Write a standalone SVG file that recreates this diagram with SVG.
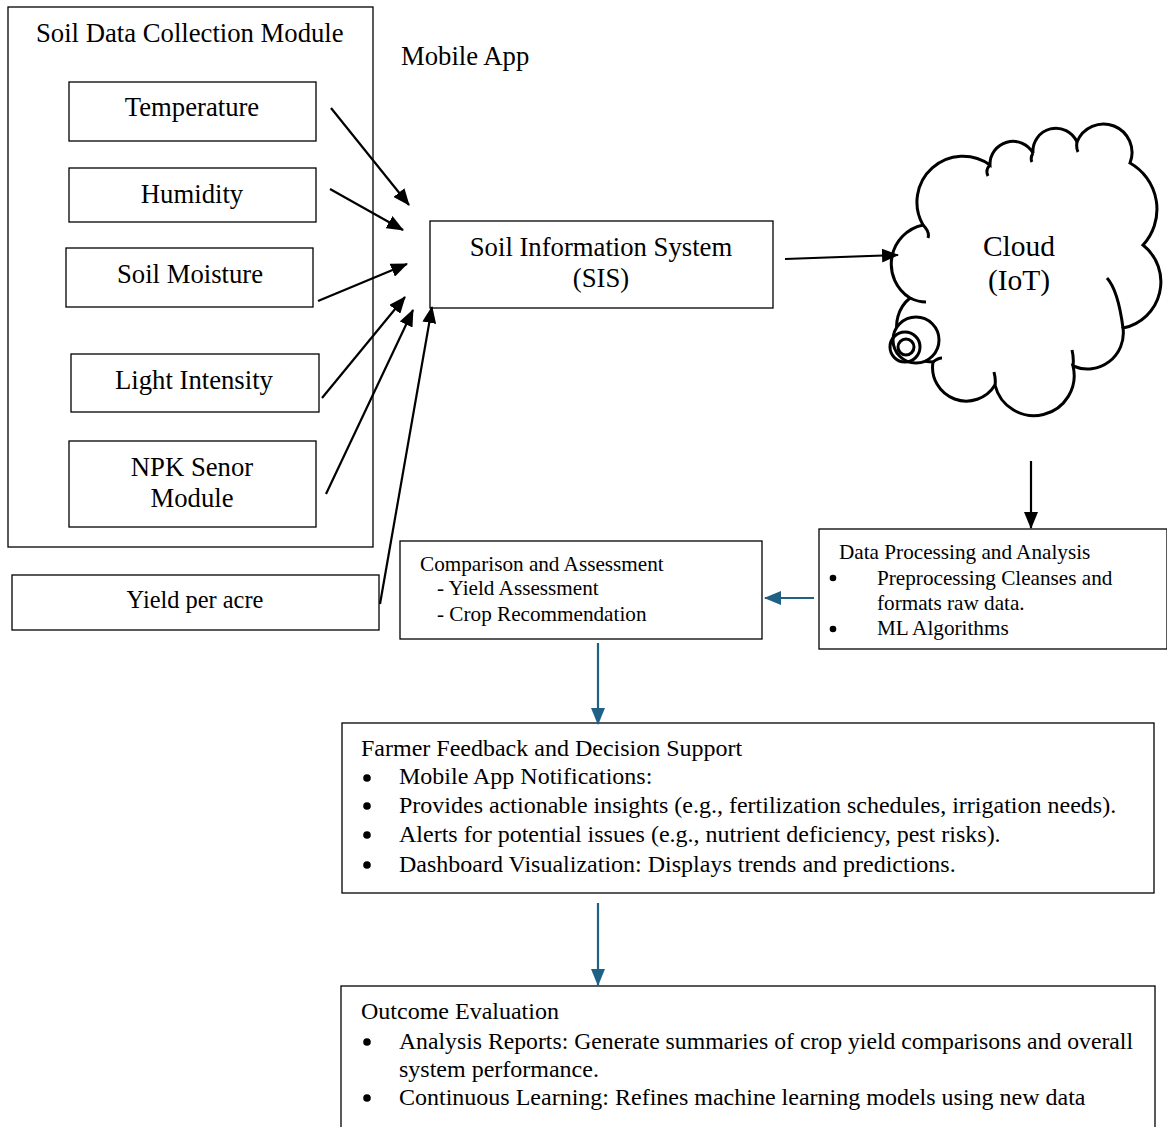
<svg xmlns="http://www.w3.org/2000/svg" width="1167" height="1127" viewBox="0 0 1167 1127">
<style>
  .box{fill:#fff;stroke:#000;stroke-width:1.3}
  text{font-family:"Liberation Serif","Times New Roman",serif;fill:#000}
  .t26{font-size:26.7px}
  .t24{font-size:24px}
  .t21{font-size:21.2px}
  .c{text-anchor:middle}
  .blk{stroke:#000;stroke-width:2.2;fill:none}
  .blu{stroke:#1f6085;stroke-width:2.2;fill:none}
  .cl{fill:none;stroke:#000;stroke-width:3}
</style>
<defs>
  <marker id="ab" markerUnits="userSpaceOnUse" markerWidth="18" markerHeight="14" refX="16" refY="7" orient="auto">
    <path d="M0,0 L17,7 L0,14 Z" fill="#000"/>
  </marker>
  <marker id="au" markerUnits="userSpaceOnUse" markerWidth="18" markerHeight="14" refX="16" refY="7" orient="auto">
    <path d="M0,0 L17,7 L0,14 Z" fill="#1f6085"/>
  </marker>
</defs>
<rect width="1167" height="1127" fill="#fff"/>

<g id="soil-module">
  <rect class="box" x="8" y="7" width="365" height="540"/>
  <text class="t26" x="36" y="42">Soil Data Collection Module</text>
</g>
<g id="temperature">
  <rect class="box" x="69" y="82" width="247" height="59"/>
  <text class="t26 c" x="192" y="116">Temperature</text>
</g>
<g id="humidity">
  <rect class="box" x="69" y="168" width="247" height="54"/>
  <text class="t26 c" x="192" y="203">Humidity</text>
</g>
<g id="soil-moisture">
  <rect class="box" x="66" y="248" width="247" height="59"/>
  <text class="t26 c" x="190" y="283">Soil Moisture</text>
</g>
<g id="light-intensity">
  <rect class="box" x="71" y="354" width="248" height="58"/>
  <text class="t26 c" x="194" y="389">Light Intensity</text>
</g>
<g id="npk">
  <rect class="box" x="69" y="441" width="247" height="86"/>
  <text class="t26 c" x="192" y="476">NPK Senor</text>
  <text class="t26 c" x="192" y="507">Module</text>
</g>
<g id="yield">
  <rect class="box" x="12" y="575" width="367" height="55"/>
  <text class="c" font-size="24.4" x="195" y="608">Yield per acre</text>
</g>
<g id="mobile-app">
  <text class="t26" x="401" y="65">Mobile App</text>
</g>
<g id="sis">
  <rect class="box" x="430" y="221" width="343" height="87"/>
  <text class="t26 c" x="601" y="256">Soil Information System</text>
  <text class="t26 c" x="601" y="287">(SIS)</text>
</g>
<g id="cloud">
  <path fill="#fff" stroke="#000" stroke-width="3" d="M923,225 A46,46 0 0 1 990,165 A23,23 0 0 1 1033,153 A23,23 0 0 1 1077,142 A28,28 0 0 1 1130,163 A53,53 0 0 1 1143,245 A47,47 0 0 1 1123,328 A36,36 0 0 1 1073,366 A39.7,39.7 0 1 1 995,385 A33.7,33.7 0 0 1 933,362 A36,36 0 0 1 910,298 A40,40 0 0 1 923,225 Z"/>
  <path class="cl" d="M923,225 Q930,232 928,238 M990,165 Q985,170 988,176 M1033,153 Q1030,158 1032,162 M1077,142 Q1076,148 1078,152 M1107,278 Q1118,290 1123,328 M1073,366 Q1074,358 1072,350 M995,385 Q996,380 994,372 M933,362 Q938,358 942,358 M910,298 Q918,302 926,302"/>
  <circle cx="916" cy="340" r="23" fill="#fff" stroke="#000" stroke-width="3"/>
  <circle cx="905" cy="347" r="15" fill="none" stroke="#000" stroke-width="3"/>
  <circle cx="906" cy="347" r="8" fill="none" stroke="#000" stroke-width="3"/>
  <text class="c" x="1019" y="256" font-size="29.5">Cloud</text>
  <text class="c" x="1019" y="290" font-size="29.5">(IoT)</text>
</g>
<g id="data-processing">
  <rect class="box" x="819" y="529" width="348" height="120"/>
  <text class="t21" x="839" y="559">Data Processing and Analysis</text>
  <circle cx="833" cy="578" r="3.3"/>
  <text class="t21" x="877" y="585">Preprocessing Cleanses and</text>
  <text class="t21" x="877" y="610">formats raw data.</text>
  <circle cx="833" cy="629" r="3.3"/>
  <text class="t21" x="877" y="635">ML Algorithms</text>
</g>
<g id="comparison">
  <rect class="box" x="400" y="541" width="362" height="98"/>
  <text class="t21" x="420" y="571">Comparison and Assessment</text>
  <text class="t21" x="437" y="595">- Yield Assessment</text>
  <text class="t21" x="437" y="621">- Crop Recommendation</text>
</g>
<g id="farmer">
  <rect class="box" x="342" y="723" width="812" height="170"/>
  <text class="t24" x="361" y="756">Farmer Feedback and Decision Support</text>
  <circle cx="367" cy="778" r="3.8"/>
  <text class="t24" x="399" y="784">Mobile App Notifications:</text>
  <circle cx="367" cy="806" r="3.8"/>
  <text class="t24" x="399" y="813">Provides actionable insights (e.g., fertilization schedules, irrigation needs).</text>
  <circle cx="367" cy="835" r="3.8"/>
  <text class="t24" x="399" y="842">Alerts for potential issues (e.g., nutrient deficiency, pest risks).</text>
  <circle cx="367" cy="865" r="3.8"/>
  <text class="t24" x="399" y="872">Dashboard Visualization: Displays trends and predictions.</text>
</g>
<g id="outcome">
  <rect class="box" x="341" y="986" width="814" height="150"/>
  <text class="t24" x="361" y="1019">Outcome Evaluation</text>
  <circle cx="367" cy="1042" r="3.8"/>
  <text class="t24" x="399" y="1049" textLength="734" lengthAdjust="spacingAndGlyphs">Analysis Reports: Generate summaries of crop yield comparisons and overall</text>
  <text class="t24" x="399" y="1077">system performance.</text>
  <circle cx="367" cy="1098" r="3.8"/>
  <text class="t24" x="399" y="1105">Continuous Learning: Refines machine learning models using new data</text>
</g>

<g id="connectors">
  <line class="blk" x1="331" y1="108" x2="409" y2="205" marker-end="url(#ab)"/>
  <line class="blk" x1="330" y1="189" x2="403" y2="230" marker-end="url(#ab)"/>
  <line class="blk" x1="318" y1="301" x2="407" y2="264" marker-end="url(#ab)"/>
  <line class="blk" x1="322" y1="398" x2="405" y2="297" marker-end="url(#ab)"/>
  <line class="blk" x1="326" y1="494" x2="413" y2="310" marker-end="url(#ab)"/>
  <line class="blk" x1="380" y1="604" x2="432" y2="307" marker-end="url(#ab)"/>
  <line class="blk" x1="785" y1="259" x2="898" y2="255" marker-end="url(#ab)"/>
  <line class="blk" x1="1031" y1="461" x2="1031" y2="528" marker-end="url(#ab)"/>
  <line class="blu" x1="814" y1="598" x2="765" y2="598" marker-end="url(#au)"/>
  <line class="blu" x1="598" y1="643" x2="598" y2="724" marker-end="url(#au)"/>
  <line class="blu" x1="598" y1="903" x2="598" y2="985" marker-end="url(#au)"/>
</g>
</svg>
